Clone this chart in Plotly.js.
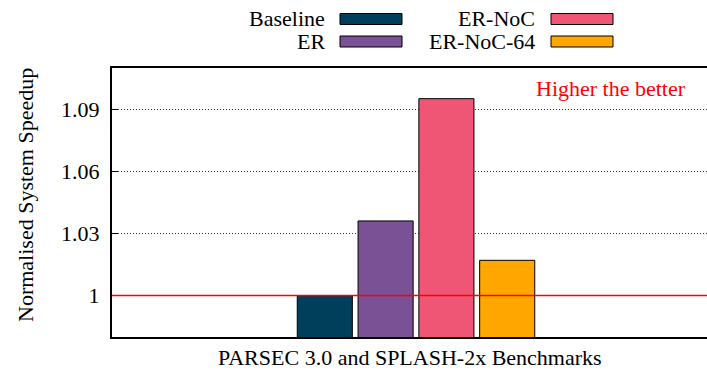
<!DOCTYPE html>
<html>
<head>
<meta charset="utf-8">
<script src="https://cdn.plot.ly/plotly-3.0.1.min.js"></script>
<style>html,body{margin:0;padding:0;background:#fff;}#chart{width:707px;height:372px;}</style>
</head>
<body>
<div id="chart"></div>
<script>
// ---- data ----
const categories = ['PARSEC 3.0 and SPLASH-2x Benchmarks'];
const seriesNames = ['Baseline', 'ER', 'ER-NoC', 'ER-NoC-64'];
const baselineValues = [1.000];
const erValues = [1.036];
const erNocValues = [1.095];
const erNoc64Values = [1.017];
const seriesColors = ['#003f5c', '#7a5195', '#ef5675', '#ffa600'];
const yTickValues = [1, 1.03, 1.06, 1.09];
const yTickLabels = ['1', '1.03', '1.06', '1.09'];
const referenceLevel = 1;

const seriesValues = [baselineValues, erValues, erNocValues, erNoc64Values];

const W = 707, H = 372, ML = 112, MR = 0, MT = 68, MB = 35;
const PW = W - ML - MR, PH = H - MT - MB;
const px2x = p => (p - ML) / PW;
const px2y = p => (H - MB - p) / PH;

const FONT = 'Liberation Serif';
const FS = 22;

const traces = seriesNames.map((name, i) => ({
  type: 'bar',
  name: name,
  x: categories,
  y: seriesValues[i],
  marker: {color: seriesColors[i], line: {color: '#000', width: 1}},
  showlegend: false,
  hoverinfo: 'y+name'
}));

// custom legend (text to the left of the swatch, as in the reference)
const legendCols = [{textRight: 327, swL: 340, swR: 402}, {textRight: 537, swL: 551, swR: 613}];
const legendRows = [{yTop: 13.5, yBot: 24.5, yText: 19}, {yTop: 36, yBot: 47, yText: 41.5}];
const legendOrder = [[0, 0], [1, 0], [0, 1], [1, 1]];
const shapes = [];
const annotations = [];
seriesNames.forEach((name, i) => {
  const r = legendRows[legendOrder[i][0]], c = legendCols[legendOrder[i][1]];
  shapes.push({type: 'rect', xref: 'paper', yref: 'paper',
    x0: px2x(c.swL), x1: px2x(c.swR), y0: px2y(r.yBot), y1: px2y(r.yTop),
    fillcolor: seriesColors[i], line: {color: '#000', width: 1}});
  annotations.push({xref: 'paper', yref: 'paper', x: px2x(c.textRight), y: px2y(r.yText),
    xanchor: 'right', yanchor: 'middle', showarrow: false, text: name,
    font: {family: FONT, size: FS, color: '#000'}});
});

// reference line at 1
shapes.push({type: 'line', xref: 'paper', yref: 'y', x0: 0, x1: 1, y0: referenceLevel, y1: referenceLevel,
  line: {color: '#ff0000', width: 1.5}, layer: 'above'});

annotations.push({xref: 'paper', yref: 'paper', x: px2x(611), y: px2y(88), xanchor: 'center', yanchor: 'middle',
  showarrow: false, text: 'Higher the better', font: {family: FONT, size: FS, color: '#ff0000'}});
annotations.push({xref: 'paper', yref: 'paper', x: px2x(25), y: px2y(195), xanchor: 'center', yanchor: 'middle',
  showarrow: false, textangle: -90, text: 'Normalised System Speedup', font: {family: FONT, size: FS, color: '#000'}});
annotations.push({xref: 'paper', yref: 'paper', x: px2x(410), y: px2y(357), xanchor: 'center', yanchor: 'middle',
  showarrow: false, text: categories[0], font: {family: FONT, size: FS, color: '#000'}});

const layout = {
  width: W, height: H,
  margin: {l: ML, r: MR, t: MT, b: MB, pad: 0},
  paper_bgcolor: '#fff', plot_bgcolor: '#fff',
  barmode: 'group', bargap: 0.60, bargroupgap: 0.094,
  font: {family: FONT, size: FS, color: '#000'},
  xaxis: {type: 'category', range: [-0.5, 0.4786], showticklabels: false, ticks: '',
    showline: true, mirror: true, linecolor: '#000', linewidth: 2, showgrid: false, zeroline: false, fixedrange: true},
  yaxis: {range: [0.98, 1.1098], tickvals: yTickValues, ticktext: yTickLabels, ticks: 'inside', ticklen: 6,
    tickwidth: 1, tickcolor: '#000', showline: true, linecolor: '#000', linewidth: 2, mirror: false,
    showgrid: true, gridcolor: '#333', griddash: '1px,2px', gridwidth: 1, zeroline: false,
    tickfont: {family: FONT, size: FS}, ticklabelstandoff: 6},
  shapes: shapes,
  annotations: annotations,
  showlegend: false
};

Plotly.newPlot('chart', traces, layout, {displayModeBar: false, staticPlot: true});
</script>
</body>
</html>
